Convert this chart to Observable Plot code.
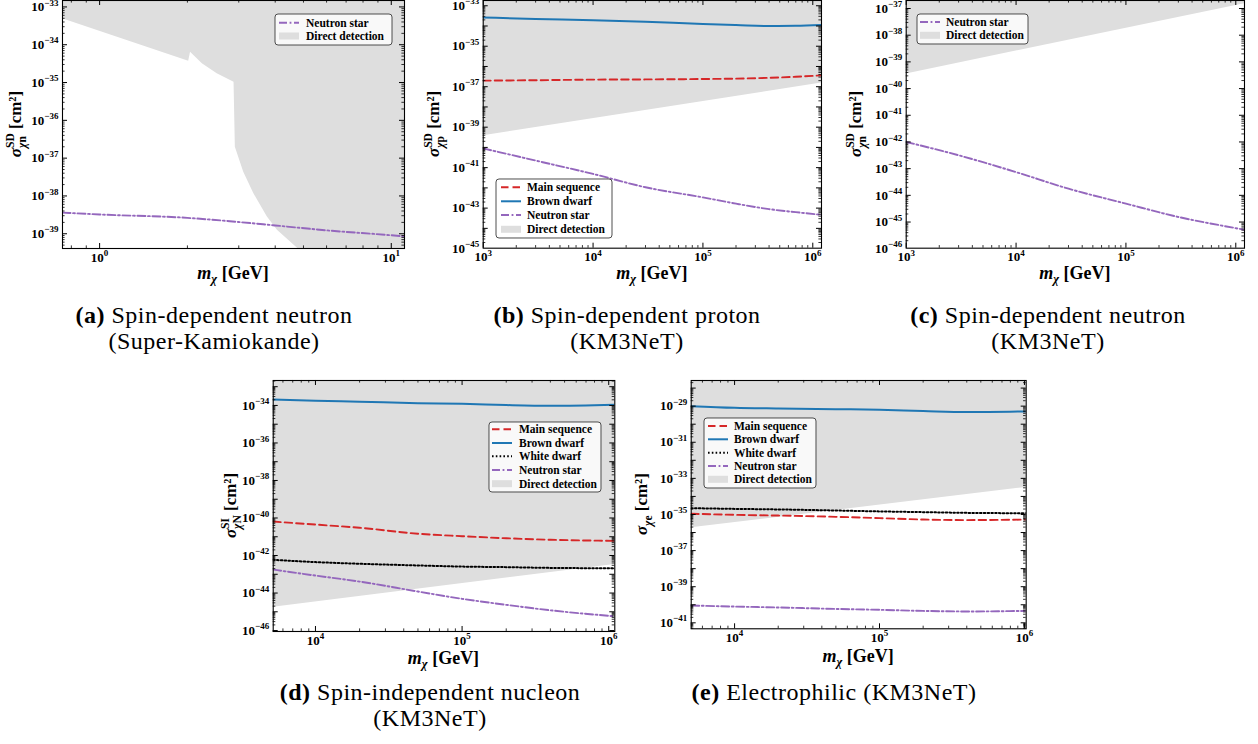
<!DOCTYPE html>
<html><head><meta charset="utf-8">
<script src="https://cdn.jsdelivr.net/npm/d3@7"></script>
<script src="https://cdn.jsdelivr.net/npm/@observablehq/plot@0.6"></script>
<style>
html,body{margin:0;padding:0;background:#fff;}
#fig{position:relative;width:1258px;height:744px;overflow:hidden;background:#fff;}
#fig svg{position:absolute;}
</style></head><body><div id="fig"></div>
<script>
// ---------------- DATA (σ values stored as log10 of cm², masses in GeV) ----------------
// (a) Spin-dependent neutron, Super-Kamiokande
const massA_ns = [0.746, 1, 2, 3, 4, 6, 10, 11.1];
const logA_ns  = [-38.44, -38.49, -38.58, -38.69, -38.78, -38.91, -39.04, -39.07];
const massA_dd = [0.746, 2.02, 2.05, 2.25, 2.53, 2.89, 2.92, 3.12, 3.38, 3.76, 4.07, 4.76, 5.6, 12];
const logA_dd  = [-33.31, -34.44, -34.20, -34.50, -34.77, -34.99, -36.71, -37.37, -37.94, -38.56, -38.91, -39.38, -39.9, -39.9];
// (b) Spin-dependent proton, KM3NeT
const massB    = [1e3, 3e3, 1e4, 3e4, 1e5, 2e5, 4e5, 7e5, 1.2e6];
const logB_ms  = [-36.70, -36.68, -36.65, -36.64, -36.62, -36.60, -36.56, -36.51, -36.44];
const logB_bd  = [-33.58, -33.65, -33.71, -33.79, -33.90, -33.95, -34.00, -33.99, -33.95];
const logB_ns  = [-40.05, -40.65, -41.31, -41.97, -42.47, -42.78, -43.05, -43.20, -43.33];
const massB_dd = [1e3, 1.2e6];
const logB_dd  = [-39.42, -36.82];
// (c) Spin-dependent neutron, KM3NeT
const massC    = [1e3, 3e3, 1e4, 3e4, 1e5, 3e5, 1e6, 1.2e6];
const logC_ns  = [-42.0, -42.5, -43.13, -43.75, -44.31, -44.81, -45.23, -45.29];
const massC_dd = [1e3, 1.2e6];
const logC_dd  = [-39.45, -36.82];
// (d) Spin-independent nucleon, KM3NeT
const massD    = [5150, 1e4, 2e4, 5e4, 1e5, 2e5, 4e5, 1.1e6];
const logD_bd  = [-33.68, -33.75, -33.80, -33.88, -33.91, -33.98, -34.02, -33.96];
const logD_ms  = [-40.19, -40.35, -40.52, -40.84, -40.97, -41.08, -41.16, -41.22];
const logD_wd  = [-42.23, -42.35, -42.44, -42.53, -42.59, -42.62, -42.66, -42.68];
const logD_ns  = [-42.75, -43.07, -43.39, -43.92, -44.31, -44.63, -44.92, -45.24];
const massD_dd = [5150, 1.1e6];
const logD_dd  = [-44.76, -42.48];
// (e) Electrophilic, KM3NeT
const massE    = [5020, 1e4, 2e4, 5e4, 1e5, 2e5, 4e5, 1.028e6];
const logE_bd  = [-29.00, -29.09, -29.13, -29.17, -29.20, -29.27, -29.33, -29.29];
const logE_ms  = [-34.96, -35.02, -35.06, -35.13, -35.20, -35.28, -35.31, -35.28];
const logE_wd  = [-34.65, -34.69, -34.72, -34.78, -34.83, -34.87, -34.91, -34.93];
const logE_ns  = [-40.04, -40.10, -40.15, -40.23, -40.28, -40.34, -40.37, -40.34];
const massE_dd = [5020, 1.028e6];
const logE_dd  = [-35.74, -33.50];
// tick label exponents
const yLabA = [-39, -38, -37, -36, -35, -34, -33];
const xLabA = [0, 1];
const yLabB = [-45, -43, -41, -39, -37, -35, -33];
const xLabB = [3, 4, 5, 6];
const yLabC = [-46, -45, -44, -43, -42, -41, -40, -39, -38, -37];
const xLabC = [3, 4, 5, 6];
const yLabD = [-46, -44, -42, -40, -38, -36, -34];
const xLabD = [4, 5, 6];
const yLabE = [-41, -39, -37, -35, -33, -31, -29];
const xLabE = [4, 5, 6];
// legend names
const NAMES = {ms: "Main sequence", bd: "Brown dwarf", wd: "White dwarf", ns: "Neutron star", dd: "Direct detection"};

// ---------------- STYLE ----------------
const FONT = "'Liberation Serif', 'DejaVu Serif', serif";
const STY = {
  ms: {stroke: "#d62728", dash: "7.5,4", w: 1.9},
  bd: {stroke: "#1f77b4", dash: null, w: 2},
  wd: {stroke: "#000000", dash: "1.6,2.2", w: 2},
  ns: {stroke: "#9467bd", dash: "8,2.6,1.8,2.6", w: 1.9}
};
const DDFILL = "#dedede";
const fig = document.getElementById("fig");

function rows(mass, logs) { return mass.map((m, i) => ({m, s: 10 ** logs[i]})); }

function logTicks(lo, hi) {
  const major = [], minor = [];
  for (let e = Math.floor(lo) - 1; e <= Math.ceil(hi); e++) {
    if (e >= lo - 1e-9 && e <= hi + 1e-9) major.push(10 ** e);
    for (let k = 2; k <= 9; k++) {
      const l = Math.log10(k) + e;
      if (l >= lo && l <= hi) minor.push(k * 10 ** e);
    }
  }
  return {major, minor};
}

function supify(svg) {
  d3.select(svg).selectAll('g[aria-label$="tick label"] text').each(function () {
    const t = this.textContent;
    const m = t.match(/^10\^(.+)$/);
    if (!m) return;
    const el = d3.select(this);
    el.text(null);
    el.append("tspan").text("10");
    el.append("tspan").attr("dy", "-0.62em").style("font-size", "9px").text(m[1].replace("-", "\u2212"));
  });
}

function yLabel(svg, x, y, sup, subParts) {
  const t = d3.select(svg).append("text")
    .attr("transform", `translate(${x},${y}) rotate(-90)`)
    .attr("text-anchor", "middle")
    .style("font-family", FONT).style("font-weight", "bold").style("font-size", "17px").attr("fill", "#000");
  t.append("tspan").style("font-style", "italic").text("σ");
  let supW = 0;
  let dyNow = 0;
  if (sup) {
    const sp = t.append("tspan").attr("dy", -7).style("font-size", "11.5px").text(sup);
    supW = sp.node().getComputedTextLength();
    dyNow = -7;
  }
  const sb = t.append("tspan").attr("dy", 4.5 - dyNow).style("font-size", "11.5px");
  if (sup) sb.attr("dx", -supW);
  for (const p of subParts) sb.append("tspan").style("font-style", p.it ? "italic" : "normal").text(p.t);
  const subW = sb.node().getComputedTextLength();
  const rest = t.append("tspan").attr("dy", -4.5).text("\u00a0[cm²]");
  if (sup && supW > subW) rest.attr("dx", supW - subW);
}

function xLabel(svg, x, y) {
  const t = d3.select(svg).append("text")
    .attr("x", x).attr("y", y).attr("text-anchor", "middle")
    .style("font-family", FONT).style("font-weight", "bold").style("font-size", "18px").attr("fill", "#000");
  t.append("tspan").style("font-style", "italic").text("m");
  t.append("tspan").attr("dy", 4).style("font-style", "italic").style("font-size", "12.5px").text("χ");
  t.append("tspan").attr("dy", -4).text("\u00a0[GeV]");
}

function legend(svg, ox, oy, lg) {
  const g = d3.select(svg).append("g").attr("text-anchor", "start");
  const [x0, y0, x1, y1] = lg.box;
  g.append("rect").attr("x", x0 - ox).attr("y", y0 - oy).attr("width", x1 - x0).attr("height", y1 - y0)
    .attr("rx", 3).attr("fill", "#ffffff").attr("fill-opacity", 0.82).attr("stroke", "#3a3a3a").attr("stroke-width", 0.9);
  lg.items.forEach((k, i) => {
    const y = lg.rows[i] - oy, hx = lg.hx - ox;
    if (k === "dd") {
      g.append("rect").attr("x", hx).attr("y", y - 3.5).attr("width", 20).attr("height", 7).attr("fill", DDFILL);
    } else {
      const s = STY[k];
      g.append("line").attr("x1", hx).attr("x2", hx + 20).attr("y1", y).attr("y2", y)
        .attr("stroke", s.stroke).attr("stroke-width", s.w).attr("stroke-dasharray", s.dash);
    }
    g.append("text").attr("x", lg.tx - ox).attr("y", y).attr("dy", "0.34em").attr("text-anchor", "start")
      .style("font-family", FONT).style("font-weight", "bold").style("font-size", "11.5px").attr("fill", "#000")
      .text(NAMES[k]);
  });
}

function buildPanel(cfg) {
  const [L, T, R, B] = cfg.frame;
  const mL = L - cfg.svgLeft, mT = T - cfg.svgTop, mR = 12, mB = 45;
  const iw = R - L, ih = B - T;
  const W = mL + iw + mR, H = mT + ih + mB;
  const yt = logTicks(cfg.yExp[0], cfg.yExp[1]);
  const xt = logTicks(Math.log10(cfg.xDom[0]), Math.log10(cfg.xDom[1]));
  const fmt = d => "10^" + Math.round(Math.log10(d));
  const marks = [];
  if (cfg.dd) marks.push(Plot.areaY(rows(cfg.dd[0], cfg.dd[1]), {x: "m", y1: "s", y2: () => 1e-10, fill: DDFILL, clip: true}));
  for (const s of cfg.series) {
    const st = STY[s.key];
    marks.push(Plot.line(rows(s.mass, s.log), {x: "m", y: "s", stroke: st.stroke, strokeWidth: st.w,
      strokeDasharray: st.dash, curve: "monotone-x", clip: true}));
  }
  marks.push(
    Plot.tickY(yt.major, {y: d => d, insetRight: iw - 5, stroke: "#000"}),
    Plot.tickY(yt.major, {y: d => d, insetLeft: iw - 5, stroke: "#000"}),
    Plot.tickY(yt.minor, {y: d => d, insetRight: iw - 2.6, stroke: "#000", strokeWidth: 0.8}),
    Plot.tickY(yt.minor, {y: d => d, insetLeft: iw - 2.6, stroke: "#000", strokeWidth: 0.8}),
    Plot.tickX(xt.major, {x: d => d, insetTop: ih - 5, stroke: "#000"}),
    Plot.tickX(xt.major, {x: d => d, insetBottom: ih - 5, stroke: "#000"}),
    Plot.tickX(xt.minor, {x: d => d, insetTop: ih - 2.6, stroke: "#000", strokeWidth: 0.8}),
    Plot.tickX(xt.minor, {x: d => d, insetBottom: ih - 2.6, stroke: "#000", strokeWidth: 0.8}),
    Plot.frame({stroke: "#000", strokeWidth: 1.1}),
    Plot.axisY(cfg.yLab.map(e => 10 ** e), {anchor: "left", tickSize: 0, tickPadding: 4, tickFormat: fmt, label: null, fontSize: 13}),
    Plot.axisX(cfg.xLab.map(e => 10 ** e), {anchor: "bottom", tickSize: 0, tickPadding: 4, tickFormat: fmt, label: null, fontSize: 13})
  );
  const chart = Plot.plot({
    width: W, height: H, marginLeft: mL, marginRight: mR, marginTop: mT, marginBottom: mB,
    x: {type: "log", domain: cfg.xDom, axis: null},
    y: {type: "log", domain: [10 ** cfg.yExp[0], 10 ** cfg.yExp[1]], axis: null},
    style: {fontFamily: FONT, fontWeight: "bold", background: "transparent", overflow: "visible", color: "#000"},
    marks
  });
  chart.style.left = cfg.svgLeft + "px";
  chart.style.top = cfg.svgTop + "px";
  fig.appendChild(chart);
  supify(chart);
  const ox = cfg.svgLeft, oy = cfg.svgTop;
  yLabel(chart, cfg.yl[0] - ox, (T + B) / 2 - oy, cfg.sup, cfg.sub);
  xLabel(chart, (L + R) / 2 - ox, cfg.xlY - oy);
  legend(chart, ox, oy, cfg.legend);
}

buildPanel({
  frame: [62, 0, 404, 248], svgLeft: 0, svgTop: -10,
  xDom: [0.746, 11.1], yExp: [-39.39, -32.83], yLab: yLabA, xLab: xLabA,
  dd: [massA_dd, logA_dd],
  series: [{key: "ns", mass: massA_ns, log: logA_ns}],
  yl: [21], sup: "SD", sub: [{t: "χ", it: true}, {t: "n"}], xlY: 279,
  legend: {box: [275, 14, 392, 45], hx: 279, tx: 306, rows: [22.7, 36], items: ["ns", "dd"]}
});
buildPanel({
  frame: [482.7, 0, 821, 247.7], svgLeft: 415, svgTop: -10,
  xDom: [1e3, 1.2e6], yExp: [-44.98, -32.74], yLab: yLabB, xLab: xLabB,
  dd: [massB_dd, logB_dd],
  series: [{key: "bd", mass: massB, log: logB_bd}, {key: "ms", mass: massB, log: logB_ms}, {key: "ns", mass: massB, log: logB_ns}],
  yl: [439], sup: "SD", sub: [{t: "χ", it: true}, {t: "p"}], xlY: 279,
  legend: {box: [496, 179, 612, 238], hx: 501, tx: 527, rows: [187.3, 201.3, 215, 229.3], items: ["ms", "bd", "ns", "dd"]}
});
buildPanel({
  frame: [905.7, 0, 1244, 247.7], svgLeft: 838, svgTop: -10,
  xDom: [1e3, 1.2e6], yExp: [-45.98, -36.70], yLab: yLabC, xLab: xLabC,
  dd: [massC_dd, logC_dd],
  series: [{key: "ns", mass: massC, log: logC_ns}],
  yl: [861], sup: "SD", sub: [{t: "χ", it: true}, {t: "n"}], xlY: 279,
  legend: {box: [917, 14, 1028, 44], hx: 920, tx: 946, rows: [22, 35.3], items: ["ns", "dd"]}
});
buildPanel({
  frame: [272.7, 380, 614.3, 631], svgLeft: 205, svgTop: 360,
  xDom: [5150, 1.1e6], yExp: [-46.05, -32.67], yLab: yLabD, xLab: xLabD,
  dd: [massD_dd, logD_dd],
  series: [{key: "bd", mass: massD, log: logD_bd}, {key: "ms", mass: massD, log: logD_ms},
           {key: "wd", mass: massD, log: logD_wd}, {key: "ns", mass: massD, log: logD_ns}],
  yl: [236], sup: "SI", sub: [{t: "χ", it: true}, {t: "N"}], xlY: 664,
  legend: {box: [489, 422, 601, 492], hx: 492, tx: 519, rows: [429.3, 443, 456.3, 470, 483.7], items: ["ms", "bd", "wd", "ns", "dd"]}
});
buildPanel({
  frame: [690.7, 380, 1025.7, 628.3], svgLeft: 625, svgTop: 360,
  xDom: [5020, 1.028e6], yExp: [-41.33, -27.58], yLab: yLabE, xLab: xLabE,
  dd: [massE_dd, logE_dd],
  series: [{key: "bd", mass: massE, log: logE_bd}, {key: "wd", mass: massE, log: logE_wd},
           {key: "ms", mass: massE, log: logE_ms}, {key: "ns", mass: massE, log: logE_ns}],
  yl: [647], sup: null, sub: [{t: "χ", it: true}, {t: "e"}], xlY: 662,
  legend: {box: [704, 418, 816, 488], hx: 708, tx: 734, rows: [426, 439.3, 452.7, 466, 479.3], items: ["ms", "bd", "wd", "ns", "dd"]}
});

// ---------------- CAPTIONS ----------------
const captions = [
  {x: 214, y: 323, lab: "(a)", txt: " Spin-dependent neutron"},
  {x: 214, y: 349, lab: "", txt: "(Super-Kamiokande)"},
  {x: 627, y: 323, lab: "(b)", txt: " Spin-dependent proton"},
  {x: 627, y: 349, lab: "", txt: "(KM3NeT)"},
  {x: 1048, y: 323, lab: "(c)", txt: " Spin-dependent neutron"},
  {x: 1048, y: 349, lab: "", txt: "(KM3NeT)"},
  {x: 430, y: 700, lab: "(d)", txt: " Spin-independent nucleon"},
  {x: 430, y: 726, lab: "", txt: "(KM3NeT)"},
  {x: 834, y: 700, lab: "(e)", txt: " Electrophilic (KM3NeT)"}
];
const cap = d3.select(fig).append("svg").attr("width", 1258).attr("height", 744).style("left", "0px").style("top", "0px");
for (const c of captions) {
  const t = cap.append("text").attr("x", c.x).attr("y", c.y).attr("text-anchor", "middle")
    .style("font-family", FONT).style("font-size", "24px").style("letter-spacing", "0.5px").attr("fill", "#000");
  if (c.lab) t.append("tspan").style("font-weight", "bold").text(c.lab);
  t.append("tspan").text(c.txt);
}
</script></body></html>
